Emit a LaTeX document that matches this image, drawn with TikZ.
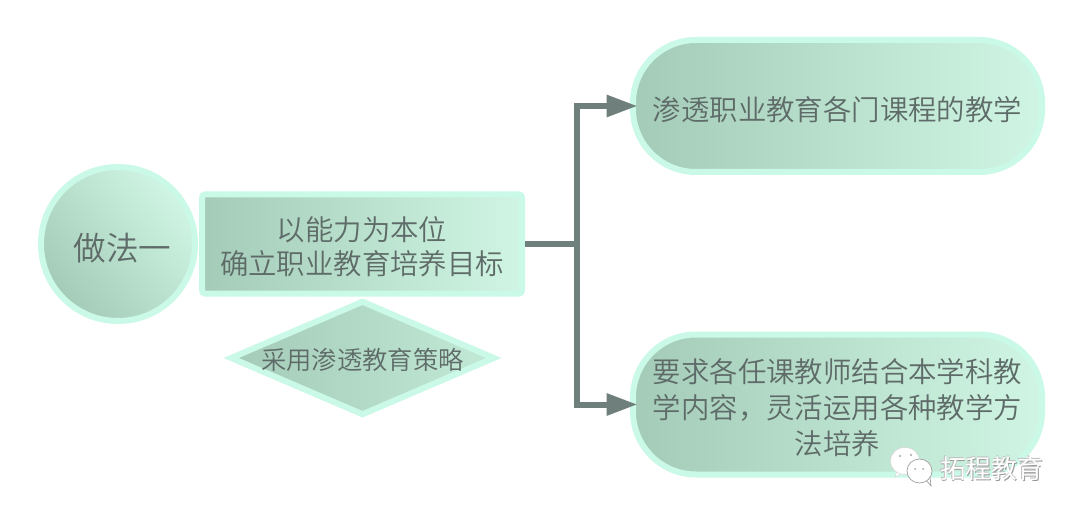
\documentclass[tikz,border=0pt]{standalone}
\usepackage{fontspec}
\setmainfont{Noto Sans CJK SC DemiLight}
\newfontfamily\wmfont{Noto Sans CJK SC}
\usetikzlibrary{arrows.meta,shapes.geometric,calc}
\definecolor{edgeglow}{HTML}{CAF9E8}
\definecolor{dark}{HTML}{A3CBB7}
\definecolor{light}{HTML}{D0F5E4}
\definecolor{inkc}{HTML}{5E6B68}
\definecolor{wire}{HTML}{6F7F7C}
\newcommand\lowered[2]{\raisebox{-#1}[\height][\depth]{\begin{tabular}{@{}c@{}}#2\end{tabular}}}
\tikzset{
  x=1pt,y=-1pt,
  filled/.style={draw=edgeglow,line width=6pt,left color=dark,right color=light,
    inner sep=0pt,text=inkc,align=center},
  roundbox/.style={filled,rectangle,rounded corners=63pt,minimum width=409pt},
  wirepath/.style={draw=wire,line width=6pt,miter limit=10},
  wirearrow/.style={wirepath,-{Triangle[length=31pt,width=21pt,inset=0pt]},shorten >=-7.5pt},
  wechat/.style={draw=gray!75,line width=0.7pt,fill=white},
  wechatbig/.style={draw=gray!30,line width=0.5pt,fill=white},
  wm/.style={inner sep=0pt,font=\wmfont\fontsize{25.8pt}{28pt}\selectfont}
}
\begin{document}
\begin{tikzpicture}
\useasboundingbox (0,0) rectangle (1080,516);
\fill[white] (0,0) rectangle (1080,516);
\node[filled,circle,shading angle=130,minimum size=154pt,font=\fontsize{32.6pt}{36pt}\selectfont] (c) at (118,244) {\lowered{8pt}{\hspace{9pt}做法一}};
\node[filled,rectangle,rounded corners=3pt,minimum width=320pt,minimum height=99pt,
  font=\fontsize{28.4pt}{34pt}\selectfont] (r) at (362,244) {\lowered{6.5pt}{以能力为本位\\确立职业教育培养目标}};
\node[filled,diamond,aspect=2.2,minimum width=265pt,minimum height=115pt,right color=light!70!dark,
  font=\fontsize{25.3pt}{28pt}\selectfont] (d) at (362.5,358) {\makebox[0pt]{\lowered{5pt}{采用渗透教育策略}}};
\node[roundbox,minimum height=132pt,font=\fontsize{28.4pt}{36pt}\selectfont] (t) at (837.5,106) {\lowered{7pt}{渗透职业教育各门课程的教学}};
\node[roundbox,minimum height=140pt,font=\fontsize{28.4pt}{36pt}\selectfont] (b) at (837.5,404.5) {\lowered{7pt}{要求各任课教师结合本学科教\\学内容，灵活运用各种教学方\\法培养}};
\coordinate (j) at (577,244);
\draw[wirepath] (r.east) -- (j);
\draw[wirearrow] (j) |- (t.west);
\draw[wirearrow] (j) |- (b.west);
% watermark
\draw[wechatbig] (897,471) -- (895,477) -- (903,473);
\draw[wechatbig] (905,461) ellipse [x radius=14.5pt,y radius=13.5pt];
\draw[wechat] (926,480) -- (931,486) -- (930,477);
\draw[wechat] (919.5,471) ellipse [x radius=12.5pt,y radius=12pt];
\fill[gray!70] (900,456) circle (1.2pt) (911,455) circle (1.2pt) (915,469) circle (1pt) (923,469) circle (1pt);
\node[wm,text=gray!80] (w2) at (992.3,469.2) {拓程教育};
\node[wm,text=gray!50] (w3) at (991,468) {拓程教育};
\node[wm,text=white] (w) at (991.6,468.6) {拓程教育};
\end{tikzpicture}
\end{document}
